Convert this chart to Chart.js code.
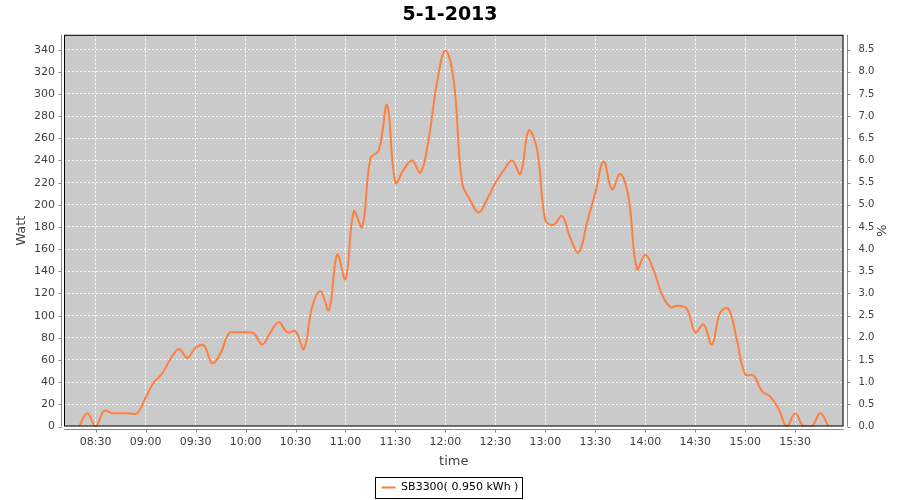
<!DOCTYPE html>
<html>
<head>
<meta charset="utf-8">
<title>5-1-2013</title>
<script src="https://cdn.jsdelivr.net/npm/chart.js@4.4.1/dist/chart.umd.min.js"></script>
<style>
  body { margin: 0; background: #fff; }
  canvas { display: block; }
</style>
</head>
<body>
<canvas id="chart" width="900" height="500"></canvas>
<script>
const chartTitle = '5-1-2013';
const seriesLabel = 'SB3300( 0.950 kWh )';

// readings every 5 minutes
const times = [
    '08:20', '08:25', '08:30', '08:35', '08:40', '08:45', '08:50', '08:55',
    '09:00', '09:05', '09:10', '09:15', '09:20', '09:25', '09:30', '09:35', '09:40', '09:45', '09:50', '09:55',
    '10:00', '10:05', '10:10', '10:15', '10:20', '10:25', '10:30', '10:35', '10:40', '10:45', '10:50', '10:55',
    '11:00', '11:05', '11:10', '11:15', '11:20', '11:25', '11:30', '11:35', '11:40', '11:45', '11:50', '11:55',
    '12:00', '12:05', '12:10', '12:15', '12:20', '12:25', '12:30', '12:35', '12:40', '12:45', '12:50', '12:55',
    '13:00', '13:05', '13:10', '13:15', '13:20', '13:25', '13:30', '13:35', '13:40', '13:45', '13:50', '13:55',
    '14:00', '14:05', '14:10', '14:15', '14:20', '14:25', '14:30', '14:35', '14:40', '14:45', '14:50', '14:55',
    '15:00', '15:05', '15:10', '15:15', '15:20', '15:25', '15:30', '15:35', '15:40', '15:45', '15:50'
];
const watts = [
    0, 12, 0, 14, 12, 12, 12, 12,
    26, 40, 48, 61, 70, 62, 71, 73, 57, 66, 84, 85,
    85, 84, 74, 85, 94, 85, 86, 70, 108, 122, 105, 155,
    133, 194, 180, 242, 249, 290, 220, 232, 240, 229, 260, 311,
    339, 312, 220, 204, 193, 205, 220, 231, 240, 228, 267, 250,
    186, 182, 190, 170, 157, 184, 211, 239, 214, 228, 206, 142,
    155, 141, 119, 108, 109, 106, 85, 92, 74, 103, 106, 78,
    47, 46, 32, 27, 16, 0, 12, 0, 0, 12, 0
];

// axis ranges
const timeStart = '08:11';
const timeEnd = '15:59';
const wattMax = 353.4;
const wattsPerPercent = 40;

const toMinutes = (h) => {
    const [hh, mm] = h.split(':').map(Number);
    return hh * 60 + mm;
};
const toClock = (m) => String(Math.floor(m / 60)).padStart(2, '0') + ':' + String(m % 60).padStart(2, '0');
const onStep = (v, step) => Math.abs(v / step - Math.round(v / step)) < 1e-6;

const tickFont = {family: 'DejaVu Sans', size: 11};
const labelFont = {family: 'DejaVu Sans', size: 13};

const frame = {
    id: 'frame',
    beforeDraw(chart) {
        const {ctx, chartArea: a} = chart;
        ctx.save();
        ctx.fillStyle = '#cacaca';
        ctx.fillRect(a.left, a.top, a.right - a.left, a.bottom - a.top);
        ctx.restore();
    },
    afterDraw(chart) {
        const {ctx, chartArea: a, scales} = chart;
        ctx.save();
        ctx.lineWidth = 1;
        ctx.strokeStyle = '#000';
        ctx.strokeRect(a.left + 0.5, a.top + 0.5, a.right - a.left - 1, a.bottom - a.top - 1);

        ctx.strokeStyle = '#888';
        ctx.beginPath();
        const lx = Math.round(a.left) - 2.5;
        ctx.moveTo(lx, a.top); ctx.lineTo(lx, a.bottom);
        scales.y.ticks.forEach(t => {
            const p = Math.round(scales.y.getPixelForValue(t.value)) + 0.5;
            ctx.moveTo(lx - 3, p); ctx.lineTo(lx, p);
        });
        const rx = Math.round(a.right) + 3.5;
        ctx.moveTo(rx, a.top); ctx.lineTo(rx, a.bottom);
        scales.y1.ticks.forEach(t => {
            const p = Math.round(scales.y1.getPixelForValue(t.value)) + 0.5;
            ctx.moveTo(rx, p); ctx.lineTo(rx + 3, p);
        });
        const by = Math.round(a.bottom) + 2.5;
        ctx.moveTo(a.left, by); ctx.lineTo(a.right, by);
        scales.x.ticks.forEach(t => {
            const p = Math.round(scales.x.getPixelForValue(t.value)) + 0.5;
            ctx.moveTo(p, by); ctx.lineTo(p, by + 3);
        });
        ctx.stroke();

        const hit = chart.legend.legendHitBoxes[0];
        if (hit) {
            const cy = Math.round(hit.top + hit.height / 2);
            ctx.strokeStyle = '#000';
            ctx.strokeRect(Math.round(hit.left) - 6.5, cy - 10.5, Math.round(hit.width) + 10, 21);
        }
        ctx.restore();
    }
};

new Chart(document.getElementById('chart'), {
    type: 'line',
    data: {
        datasets: [{
            label: seriesLabel,
            data: times.map((h, i) => ({x: toMinutes(h), y: watts[i]})),
            borderColor: '#ff7f3f',
            backgroundColor: '#ff7f3f',
            borderWidth: 2,
            pointRadius: 0,
            tension: 0.4,
            fill: false
        }]
    },
    options: {
        responsive: false,
        animation: false,
        layout: {padding: 0},
        plugins: {
            title: {
                display: true,
                text: chartTitle,
                color: '#000',
                font: {family: 'DejaVu Sans', size: 19, weight: 'bold'},
                padding: {top: 4, bottom: 8}
            },
            legend: {
                position: 'bottom',
                maxHeight: 27,
                labels: {
                    color: '#000',
                    font: tickFont,
                    usePointStyle: true,
                    pointStyle: 'line',
                    pointStyleWidth: 14,
                    padding: 9
                }
            },
            tooltip: {enabled: false}
        },
        scales: {
            x: {
                type: 'linear',
                min: toMinutes(timeStart),
                max: toMinutes(timeEnd),
                afterBuildTicks: (s) => { s.ticks = s.ticks.filter(t => onStep(t.value, 30)); },
                afterFit: (s) => { s.height = 46.5; },
                border: {display: false, dash: [2, 2]},
                grid: {color: '#fff', drawTicks: false},
                ticks: {
                    stepSize: 30,
                    autoSkip: false,
                    maxRotation: 0,
                    padding: 9,
                    color: '#404040',
                    font: tickFont,
                    callback: (v) => toClock(v)
                },
                title: {display: true, text: 'time', color: '#404040', font: labelFont, padding: {top: 0, bottom: 4}}
            },
            y: {
                position: 'left',
                min: 0,
                max: wattMax,
                afterBuildTicks: (s) => { s.ticks = s.ticks.filter(t => onStep(t.value, 20)); },
                afterFit: (s) => { s.width = 64; },
                border: {display: false, dash: [2, 2]},
                grid: {color: '#fff', drawTicks: false},
                ticks: {stepSize: 20, padding: 9, color: '#404040', font: tickFont},
                title: {display: true, text: 'Watt', color: '#404040', font: labelFont, padding: {top: 14, bottom: 0}}
            },
            y1: {
                position: 'right',
                display: true,
                min: 0,
                max: wattMax / wattsPerPercent,
                afterBuildTicks: (s) => { s.ticks = s.ticks.filter(t => onStep(t.value, 0.5)); },
                afterFit: (s) => { s.width = 56.5; },
                border: {display: false},
                grid: {display: false, drawOnChartArea: false},
                ticks: {
                    stepSize: 0.5,
                    padding: 7,
                    color: '#404040',
                    font: {family: 'DejaVu Sans', size: 10},
                    callback: (v) => v.toFixed(1)
                },
                title: {display: true, text: '%', color: '#404040', font: labelFont, padding: {top: 12, bottom: 0}}
            }
        }
    },
    plugins: [frame]
});
</script>
</body>
</html>
